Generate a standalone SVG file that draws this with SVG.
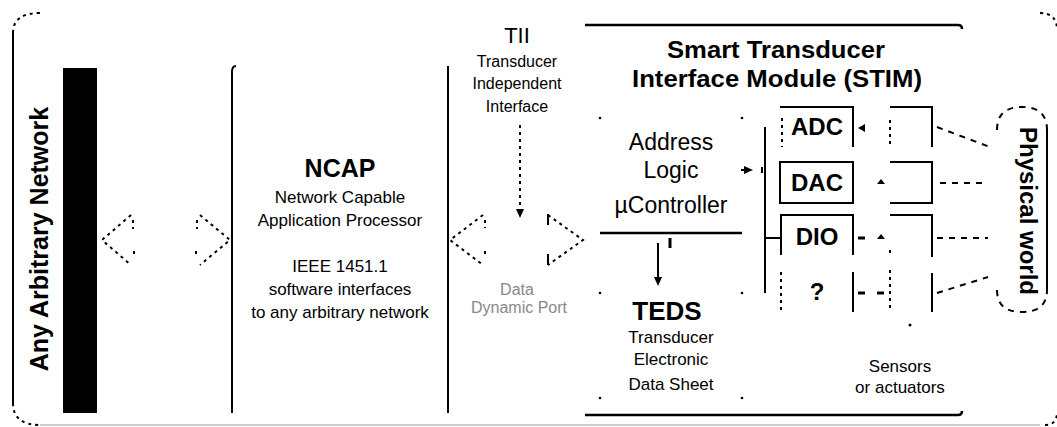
<svg xmlns="http://www.w3.org/2000/svg" width="1057" height="427" viewBox="0 0 1057 427">
<style>
.ln{stroke:#000;stroke-width:2;fill:none}
.thk{stroke:#000;stroke-width:2.5;fill:none}
.dot{stroke:#000;stroke-width:2;fill:none;stroke-dasharray:3 4}
.dash{stroke:#000;stroke-width:2;fill:none;stroke-dasharray:6 6}
.t{font-family:"Liberation Sans",Arial,sans-serif;fill:#000;text-anchor:middle}
.b{font-weight:bold}
.s17{font-size:17px}
.s16{font-size:16px}
.faint{fill:#888}
</style>
<defs>
<marker id="ah" markerWidth="10" markerHeight="10" refX="5" refY="5" orient="auto" markerUnits="userSpaceOnUse">
<path d="M0,1 L9,5 L0,9 z" fill="#000"/>
</marker>
</defs>
<rect width="1057" height="427" fill="#fff"/>

<g id="frame">
<path class="ln" d="M13,33 L13,403"/>
<path class="dot" d="M13,33 Q13,13 40,13"/>
<path class="dot" d="M13,403 Q13,425 40,425"/>
<path d="M40,425 L1040,425" stroke="#bbb" stroke-width="1.5" fill="none"/>
<path class="dot" d="M1040,13 Q1057,13 1057,30"/>
<path class="dot" d="M1045,425 Q1057,425 1057,412"/>
</g>

<g id="network">
<rect x="63" y="68" width="34" height="345" fill="#000"/>
<text class="t b" font-size="25" transform="translate(48,239) rotate(-90)">Any Arbitrary Network</text>
</g>

<g id="ncap">
<path class="ln" d="M236,66 Q232,66 232,72 L232,413"/>
<path class="ln" d="M448,66 L448,413"/>
<text class="t b" font-size="25" x="340" y="177">NCAP</text>
<text class="t s17" x="340" y="203">Network Capable</text>
<text class="t s17" x="340" y="226">Application Processor</text>
<text class="t s17" x="340" y="272">IEEE 1451.1</text>
<text class="t s17" x="340" y="295">software interfaces</text>
<text class="t s17" x="340" y="318">to any arbitrary network</text>
</g>

<g id="tii">
<text class="t" font-size="22" x="517" y="43">TII</text>
<text class="t s16" x="517" y="67">Transducer</text>
<text class="t s16" x="517" y="89">Independent</text>
<text class="t s16" x="517" y="112">Interface</text>
<text class="t s16 faint" x="517" y="295">Data</text>
<text class="t s16 faint" x="519" y="313">Dynamic Port</text>
</g>

<g id="stim">
<path class="thk" d="M585,25 L958,25 Q962,25 962,29"/>
<path class="thk" d="M585,415 L958,415 Q962,415 962,411"/>
<text class="t b" font-size="23" x="776" y="58" textLength="218" lengthAdjust="spacingAndGlyphs">Smart Transducer</text>
<text class="t b" font-size="24" x="777" y="87" textLength="290" lengthAdjust="spacingAndGlyphs">Interface Module (STIM)</text>
</g>

<g id="address-logic">
<circle cx="600" cy="118" r="1.3"/>
<circle cx="742" cy="118" r="1.3"/>
<path class="thk" d="M600,233 L742,233"/>
<text class="t" font-size="23" x="671" y="150">Address</text>
<text class="t" font-size="23" x="671" y="178">Logic</text>
<text class="t" font-size="23" x="671" y="213">µController</text>
</g>

<g id="teds">
<circle cx="600" cy="293" r="1.3"/>
<circle cx="742" cy="293" r="1.3"/>
<circle cx="600" cy="398" r="1.3"/>
<circle cx="742" cy="398" r="1.3"/>
<text class="t b" font-size="26" x="667" y="320">TEDS</text>
<text class="t s17" x="671" y="343">Transducer</text>
<text class="t s17" x="671" y="365">Electronic</text>
<text class="t s17" x="671" y="390">Data Sheet</text>
</g>

<g id="adc">
<path class="ln" d="M780,107 L853,107 L853,147"/>
<path class="dot" d="M782,118 L782,147"/>
<text class="t b" font-size="24" x="817" y="135">ADC</text>
</g>
<g id="dac">
<rect class="ln" x="780" y="162" width="73" height="41"/>
<text class="t b" font-size="24" x="817" y="191">DAC</text>
</g>
<g id="dio">
<path class="ln" d="M781,255 L781,215 L853,215 L853,255"/>
<text class="t b" font-size="24" x="817" y="245">DIO</text>
</g>
<g id="unknown">
<path class="dot" d="M781,272 L781,312"/>
<path class="ln" d="M853,272 L853,312"/>
<text class="t b" font-size="24" x="817" y="300">?</text>
</g>

<g id="sensor-adc">
<path class="ln" d="M890,107 L932,107 L932,147"/>
<path class="dot" d="M890,120 L890,147"/>
</g>
<g id="sensor-dac">
<path class="ln" d="M890,162 L932,162 L932,203 L890,203"/>
</g>
<g id="sensor-dio">
<path class="ln" d="M890,215 L932,215 L932,257"/>
<path class="dot" d="M890,250 L890,257"/>
</g>
<g id="sensor-unknown">
<path class="ln" d="M932,273 L932,312"/>
<path class="dot" d="M890,270 L890,312"/>
</g>
<text class="t s17" x="900" y="372">Sensors</text>
<text class="t s17" x="900" y="393">or actuators</text>

<g id="physical-world">
<path class="dash" d="M997,130 Q997,107 1022,107 Q1047,107 1047,130"/>
<path class="dash" d="M997,290 Q997,312 1022,312 Q1047,312 1047,290"/>
<path class="ln" d="M1047,130 L1047,290"/>
<text class="t b" font-size="24" transform="translate(1020,211) rotate(90)">Physical world</text>
</g>

<g id="connectors">
<!-- network <-> NCAP -->
<path class="dot" d="M131,215 L102,240 L131,265"/>
<path class="dot" d="M133,220 L133,229"/>
<path class="dot" d="M134,251 L134,258"/>
<path class="dot" d="M200,215 L230,240 L200,265"/>
<path class="dot" d="M197,220 L197,229"/>
<path class="dot" d="M196,251 L196,258"/>
<!-- NCAP <-> STIM (TII) -->
<path class="dot" d="M483,215 L450,240 L483,265"/>
<path class="dot" d="M485,220 L485,228"/>
<path class="dot" d="M485,251 L485,258"/>
<path class="dot" d="M548,215 L583,240 L548,265"/>
<path class="ln" d="M548,214 L548,225"/>
<path class="ln" d="M548,254 L548,265"/>
<path class="dot" d="M520,125 L520,214" marker-end="url(#ah)"/>
<!-- controller -> TEDS -->
<path class="ln" d="M658,243 L658,282" marker-end="url(#ah)"/>
<path d="M670,238 L670,248" stroke="#000" stroke-width="3"/>
<!-- controller -> bus -->
<path class="ln" d="M741,170 L749,170" marker-end="url(#ah)"/>
<path d="M762,167 L762,173" stroke="#000" stroke-width="2"/>
<path class="ln" d="M765,127 L765,293"/>
<path class="ln" d="M765,238 L781,238"/>
<!-- converter <-> sensor marks -->
<path d="M858,128 L865,124 L865,132 z" fill="#000"/>
<path d="M877,184 L881,179 L885,184 z" fill="#000"/>
<path d="M858,238 L865,238" stroke="#000" stroke-width="3"/>
<path d="M877,239 L881,234 L885,239 z" fill="#000"/>
<path d="M858,293 L865,293" stroke="#000" stroke-width="3"/>
<path d="M877,293 L884,293" stroke="#000" stroke-width="3"/>
<circle cx="910" cy="325" r="1.5"/>
<!-- sensors <-> physical world -->
<path class="dash" d="M937,127 L990,147"/>
<path class="dash" d="M940,183 L988,183"/>
<path class="dash" d="M937,238 L988,238"/>
<path class="dash" d="M937,293 L988,277"/>
</g>
</svg>
